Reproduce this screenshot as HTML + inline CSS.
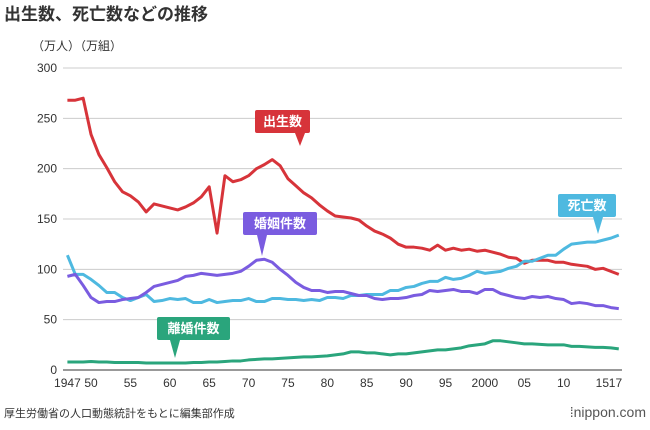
<!DOCTYPE html>
<html><head><meta charset="utf-8"><style>
body{margin:0;background:#fff;font-family:"Liberation Sans","Noto Sans CJK JP",sans-serif;}
svg text{font-family:"Liberation Sans","Noto Sans CJK JP",sans-serif;}
</style></head><body>
<svg id="c" width="650" height="425">
<text x="4" y="20" font-size="17" font-weight="bold" fill="#333">出生数、死亡数などの推移</text>
<text x="32" y="50" font-size="12" fill="#333">（万人）（万組）</text>
<text x="4" y="417" font-size="11" fill="#333">厚生労働省の人口動態統計をもとに編集部作成</text>
<text x="646" y="417" font-size="14" fill="#555" text-anchor="end">⁞nippon.com</text>
<g id="grid"></g><g id="lines"></g><g id="labels"></g>
</svg>
<script>
const years=[];for(let y=1947;y<=2017;y++)years.push(y);
const births=[268,268,270,234,214,201,187,177,173,167,157,165,163,161,159,162,166,172,182,136,193,187,189,193,200,204,209,203,190,183,176,171,164,158,153,152,151,149,143,138,135,131,125,122,122,121,119,124,119,121,119,120,118,119,117,115,112,111,106,109,109,109,107,107,105,104,103,100,101,98,95];
const deaths=[114,95,95,90,84,77,77,72,69,72,75,68,69,71,70,71,67,67,70,67,68,69,69,71,68,68,71,71,70,70,69,70,69,72,72,71,74,74,75,75,75,79,79,82,83,86,88,88,92,90,91,94,98,96,97,98,101,103,108,108,111,114,114,120,125,126,127,127,129,131,134];
const marriages=[93,95,84,72,67,68,68,70,71,72,77,83,85,87,89,93,94,96,95,94,95,96,98,103,109,110,107,100,94,87,82,79,79,77,78,78,76,74,74,71,70,71,71,72,74,75,79,78,79,80,78,78,76,80,80,76,74,72,71,73,72,73,71,70,66,67,66,64,64,62,61];
const divorces=[8,8,8,8.5,8,8,7.5,7.5,7.5,7.5,7,7,7,7,7,7,7.5,7.5,8,8,8.5,9,9,10,10.5,11,11,11.5,12,12.5,13,13,13.5,14,15,16,18,18,17,17,16,15,16,16,17,18,19,20,20,21,22,24,25,26,29,29,28,27,26,26,25.5,25,25,25,23.5,23.5,23,22.5,22.5,22,21];
const yTicks=[0,50,100,150,200,250,300];
const xTicks=[[1947,"1947"],[1950,"50"],[1955,"55"],[1960,"60"],[1965,"65"],[1970,"70"],[1975,"75"],[1980,"80"],[1985,"85"],[1990,"90"],[1995,"95"],[2000,"2000"],[2005,"05"],[2010,"10"],[2015,"15"],[2017,"17"]];
const X=y=>67.4+(y-1947)*7.877, Y=v=>370-v*1.0067;
const NS="http://www.w3.org/2000/svg";
function mk(p,t,a){const e=document.createElementNS(NS,t);for(const k in a)e.setAttribute(k,a[k]);document.getElementById(p).appendChild(e);return e;}
yTicks.forEach(v=>{const l=mk("grid","line",{x1:63,x2:622,y1:Y(v),y2:Y(v),stroke:v?"#ccc":"#333","stroke-width":1});


const t=mk("grid","text",{x:57,y:Y(v)+4,"font-size":12,"text-anchor":"end",fill:"#333"});t.textContent=v;

});
xTicks.forEach(([y,s])=>{const a=s==="15"?"end":s==="17"?"start":"middle";const dx=s==="15"?6:s==="17"?-10:0;
const t=mk("grid","text",{x:X(y)+dx,y:387,"font-size":12,"text-anchor":a,fill:"#333"});t.textContent=s;

});
const series=[["births",births,"#d7343a"],["deaths",deaths,"#4eb9e0"],["marriages",marriages,"#7a5ce0"],["divorces",divorces,"#2aa57c"]];
series.forEach(([n,d,c])=>{const p=mk("lines","polyline",{points:d.map((v,i)=>X(years[i])+","+Y(v)).join(" "),fill:"none",stroke:c,"stroke-width":3,"stroke-linejoin":"round"});

});
function label(n,txt,x,y,w,c,px,py){const g=mk("labels","g",{});


const ns=(t,a)=>{const e=document.createElementNS(NS,t);for(const k in a)e.setAttribute(k,a[k]);g.appendChild(e);return e;};
ns("rect",{x:x,y:y,width:w,height:23,rx:2,fill:c});
ns("polygon",{points:`${px-5},${y+23} ${px+5},${y+23} ${px},${py}`,fill:c});
const t=ns("text",{x:x+w/2,y:y+16,"font-size":13,"font-weight":"bold",fill:"#fff","text-anchor":"middle"});t.textContent=txt;}
label("births","出生数",255,110,55,"#d7343a",300,146);
label("marriages","婚姻件数",243,212,74,"#7a5ce0",262,256);
label("deaths","死亡数",558,194,58,"#4eb9e0",598,234);
label("divorces","離婚件数",157,317,73,"#2aa57c",175,358);
</script>
</body></html>
